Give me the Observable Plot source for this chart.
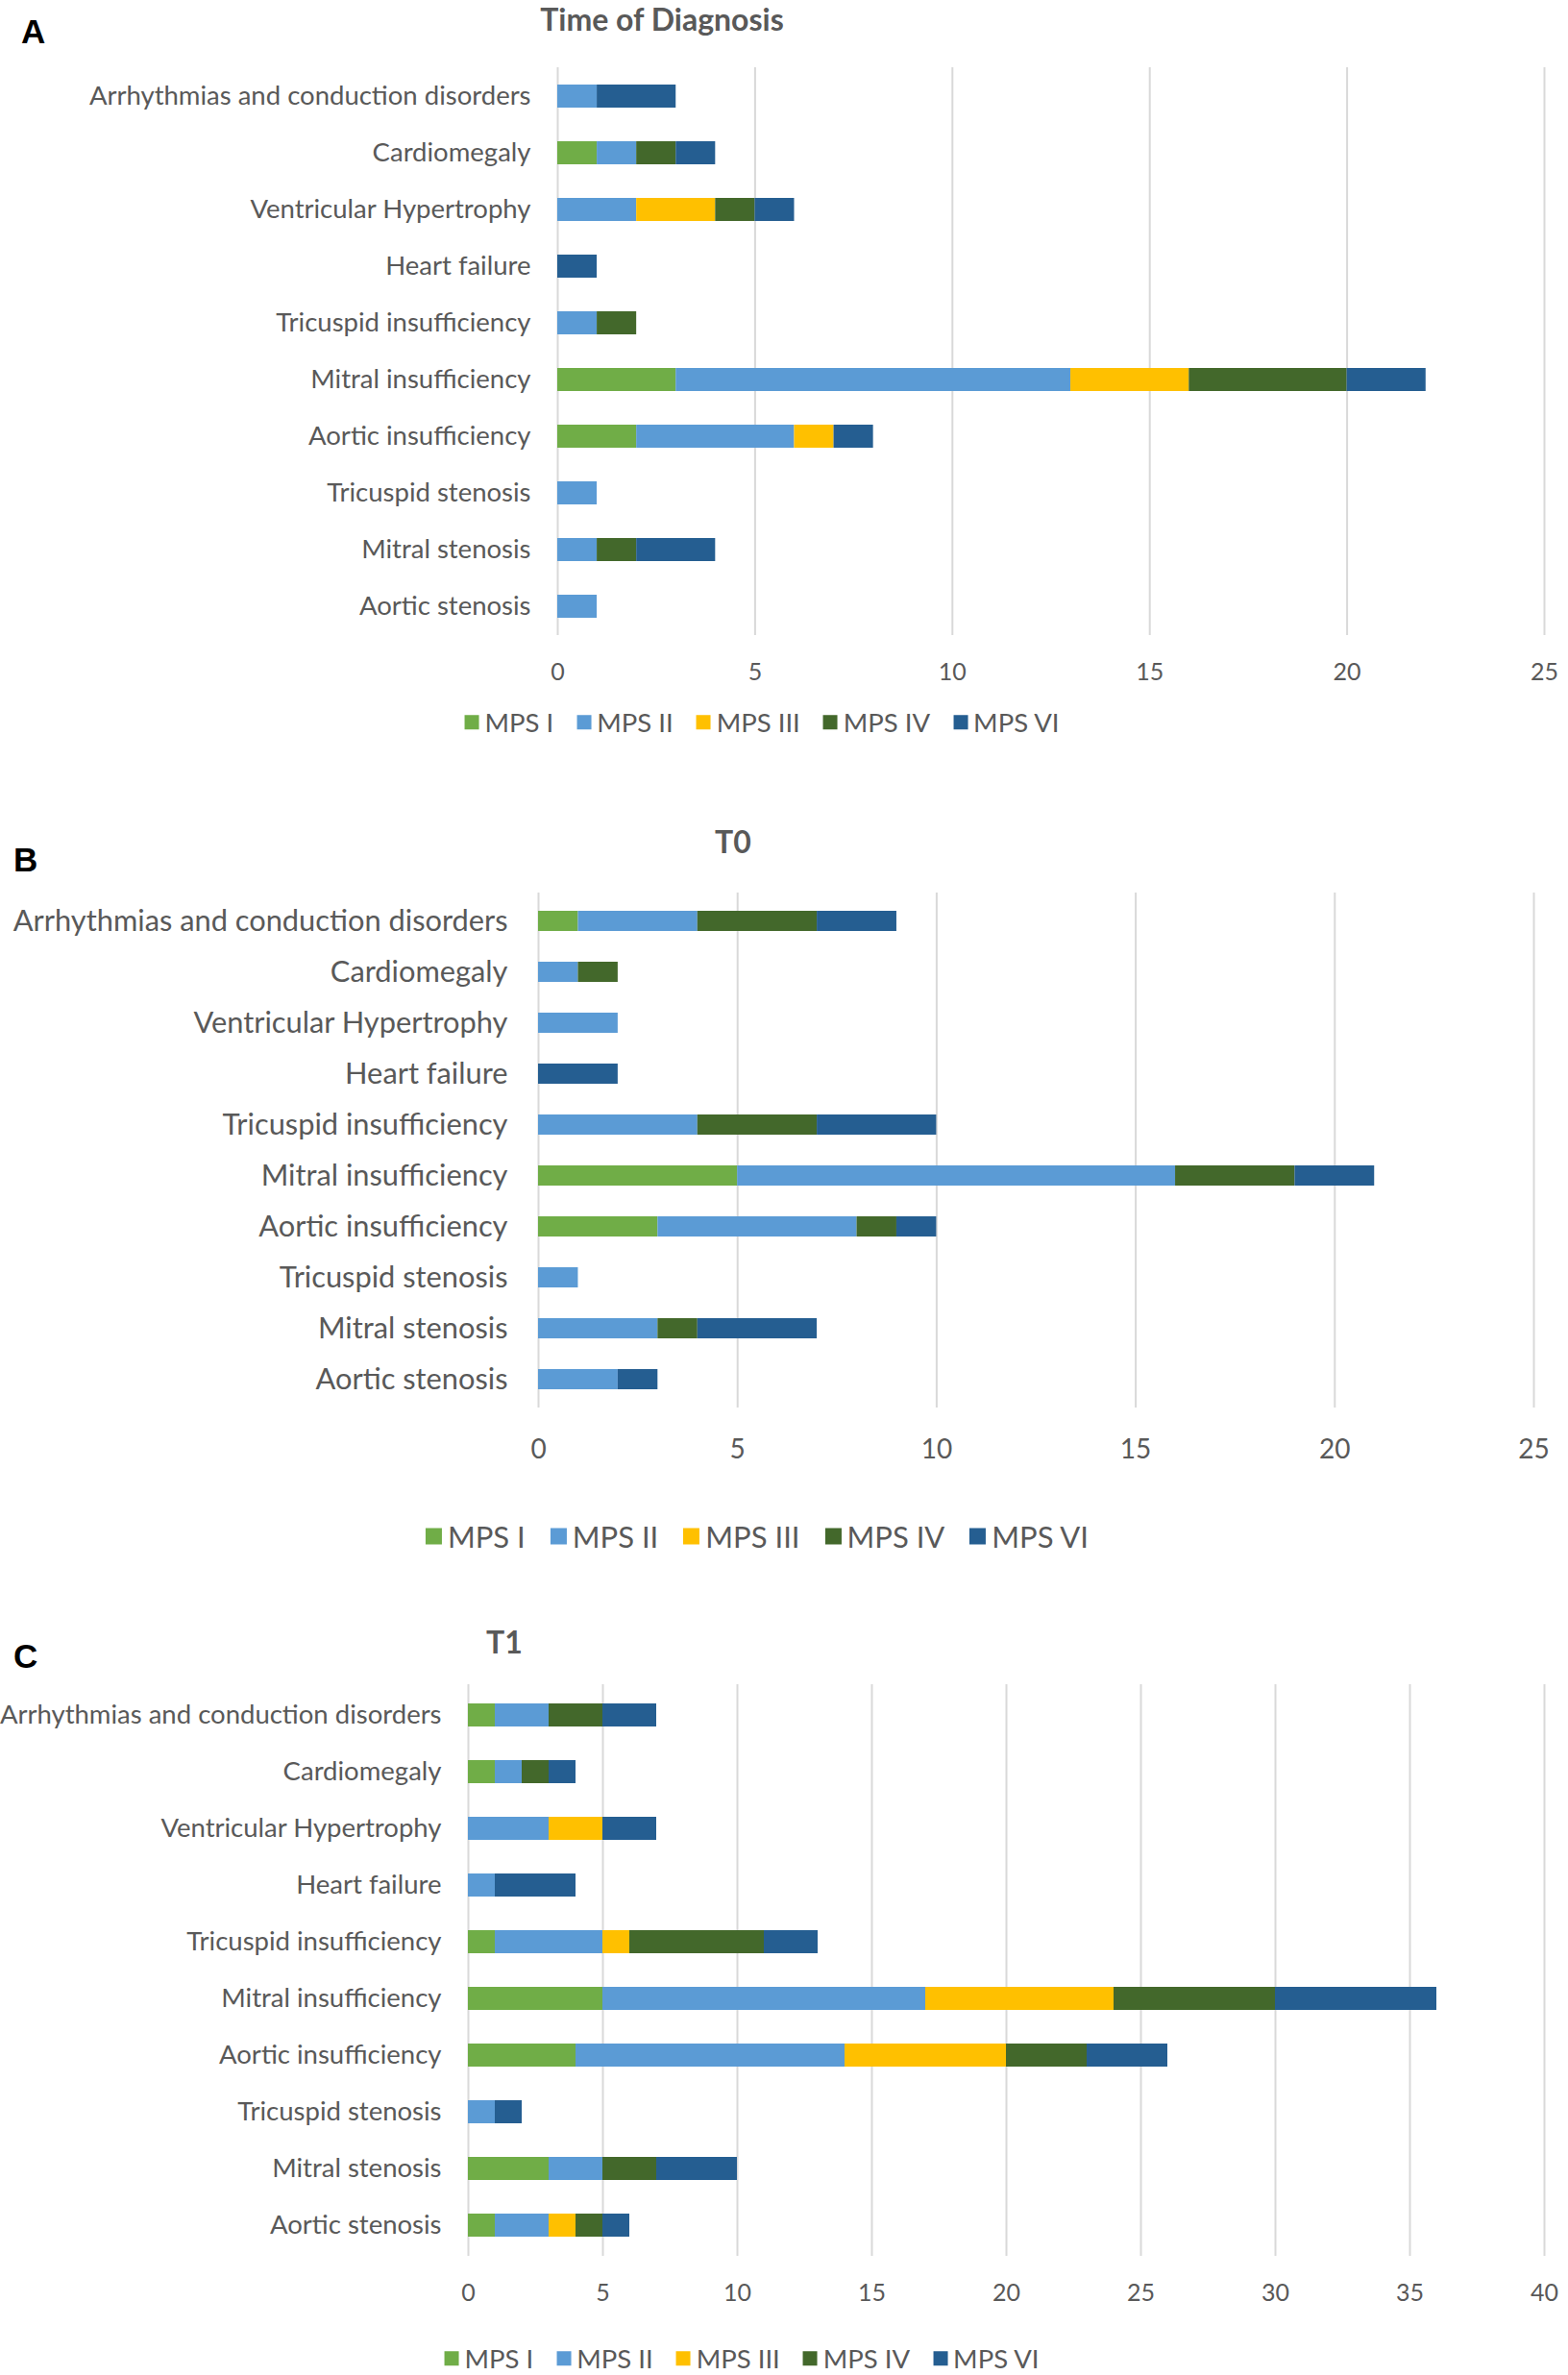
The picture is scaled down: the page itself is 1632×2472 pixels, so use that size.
<!DOCTYPE html>
<html>
<head>
<meta charset="utf-8">
<script src="https://cdn.jsdelivr.net/npm/d3@7"></script>
<script src="https://cdn.jsdelivr.net/npm/@observablehq/plot@0.6"></script>
<style>
  html, body { margin: 0; padding: 0; background: #fff; }
  #root { position: relative; width: 1632px; height: 2472px; background: #fff; font-family: Lato, "Open Sans", sans-serif; color: #595959; overflow: hidden; }
  .abs { position: absolute; }
  .letter { font-family: "Liberation Sans", Arial, sans-serif; font-weight: bold; color: #000; font-size: 35px; line-height: 1; }
  .title { font-weight: bold; color: #595959; transform: translate(-50%, -50%); white-space: nowrap; line-height: 1.15; }
  .legend { display: flex; align-items: center; transform: translate(-50%, -50%); white-space: nowrap; line-height: 1; color: #595959; }
  .legend .item { display: flex; align-items: center; }
  .legend .sw { display: inline-block; margin-right: 6px; }
</style>
</head>
<body>
<div id="root"></div>
<script>
// Categories, top to bottom
const categories = [
  "Arrhythmias and conduction disorders",
  "Cardiomegaly",
  "Ventricular Hypertrophy",
  "Heart failure",
  "Tricuspid insufficiency",
  "Mitral insufficiency",
  "Aortic insufficiency",
  "Tricuspid stenosis",
  "Mitral stenosis",
  "Aortic stenosis"
];
const seriesNames = ["MPS I", "MPS II", "MPS III", "MPS IV", "MPS VI"];
const seriesColors = ["#70AD47", "#5B9BD5", "#FFC000", "#43682B", "#255E91"];

// Panel A: Time of Diagnosis (one array per series, values in category order)
const diagnosisMPSI   = [0, 1, 0, 0, 0, 3, 2, 0, 0, 0];
const diagnosisMPSII  = [1, 1, 2, 0, 1, 10, 4, 1, 1, 1];
const diagnosisMPSIII = [0, 0, 2, 0, 0, 3, 1, 0, 0, 0];
const diagnosisMPSIV  = [0, 1, 1, 0, 1, 4, 0, 0, 1, 0];
const diagnosisMPSVI  = [2, 1, 1, 1, 0, 2, 1, 0, 2, 0];

// Panel B: T0
const t0MPSI   = [1, 0, 0, 0, 0, 5, 3, 0, 0, 0];
const t0MPSII  = [3, 1, 2, 0, 4, 11, 5, 1, 3, 2];
const t0MPSIII = [0, 0, 0, 0, 0, 0, 0, 0, 0, 0];
const t0MPSIV  = [3, 1, 0, 0, 3, 3, 1, 0, 1, 0];
const t0MPSVI  = [2, 0, 0, 2, 3, 2, 1, 0, 3, 1];

// Panel C: T1
const t1MPSI   = [1, 1, 0, 0, 1, 5, 4, 0, 3, 1];
const t1MPSII  = [2, 1, 3, 1, 4, 12, 10, 1, 2, 2];
const t1MPSIII = [0, 0, 2, 0, 1, 7, 6, 0, 0, 1];
const t1MPSIV  = [2, 1, 0, 0, 5, 6, 3, 0, 2, 1];
const t1MPSVI  = [2, 1, 2, 3, 2, 6, 3, 1, 3, 1];

const xTicksA = [0, 5, 10, 15, 20, 25];
const xTicksB = [0, 5, 10, 15, 20, 25];
const xTicksC = [0, 5, 10, 15, 20, 25, 30, 35, 40];

const root = document.getElementById("root");

function toRows(seriesArrays) {
  const rows = [];
  seriesArrays.forEach((vals, si) => {
    vals.forEach((v, ci) => {
      if (v > 0) rows.push({category: categories[ci], series: seriesNames[si], value: v});
    });
  });
  return rows;
}

function panel(cfg) {
  const rows = toRows(cfg.values);
  const chart = Plot.plot({
    width: 1632,
    height: cfg.height,
    marginTop: cfg.marginTop,
    marginBottom: cfg.marginBottom,
    marginLeft: cfg.marginLeft,
    marginRight: cfg.marginRight,
    style: {fontFamily: "Lato, 'Open Sans', sans-serif", fontSize: cfg.labelSize + "px", color: "#595959", background: "transparent", overflow: "visible"},
    x: {domain: [cfg.ticks[0], cfg.ticks[cfg.ticks.length - 1]], ticks: cfg.ticks, label: null},
    y: {domain: categories, paddingInner: 0.6, paddingOuter: 0.3, label: null},
    color: {domain: seriesNames, range: seriesColors},
    marks: [
      Plot.gridX(cfg.ticks, {stroke: "#D9D9D9", strokeOpacity: 1, strokeWidth: 2}),
      Plot.barX(rows, {x: "value", y: "category", fill: "series", inset: 0}),
      Plot.axisX(cfg.ticks, {tickSize: 0, tickPadding: cfg.xPad, label: null, fill: "#595959", fontSize: cfg.tickSize}),
      Plot.axisY({tickSize: 0, tickPadding: cfg.yPad, label: null, fill: "#595959", fontSize: cfg.labelSize})
    ]
  });
  chart.style.position = "absolute";
  chart.style.left = "0px";
  chart.style.top = cfg.top + "px";
  root.appendChild(chart);

  const letter = document.createElement("div");
  letter.className = "abs letter";
  letter.textContent = cfg.letter;
  letter.style.left = cfg.letterX + "px";
  letter.style.top = cfg.letterY + "px";
  root.appendChild(letter);

  const title = document.createElement("div");
  title.className = "abs title";
  title.textContent = cfg.title;
  title.style.left = cfg.titleX + "px";
  title.style.top = cfg.titleY + "px";
  title.style.fontSize = cfg.titleSize + "px";
  root.appendChild(title);

  const legend = document.createElement("div");
  legend.className = "abs legend";
  legend.style.left = cfg.legendX + "px";
  legend.style.top = cfg.legendY + "px";
  legend.style.fontSize = cfg.legendSize + "px";
  seriesNames.forEach((name, i) => {
    const item = document.createElement("div");
    item.className = "item";
    item.style.marginRight = (i < seriesNames.length - 1 ? cfg.legendGap : 0) + "px";
    const sw = document.createElement("span");
    sw.className = "sw";
    sw.style.background = seriesColors[i];
    sw.style.width = cfg.swSize + "px";
    sw.style.height = cfg.swSize + "px";
    const tx = document.createElement("span");
    tx.textContent = name;
    item.appendChild(sw);
    item.appendChild(tx);
    legend.appendChild(item);
  });
  root.appendChild(legend);
}

panel({
  values: [diagnosisMPSI, diagnosisMPSII, diagnosisMPSIII, diagnosisMPSIV, diagnosisMPSVI],
  ticks: xTicksA, top: 40, height: 696, marginTop: 30, marginBottom: 75,
  marginLeft: 580, marginRight: 25, labelSize: 27.5, tickSize: 25, xPad: 29, yPad: 28,
  letter: "A", letterX: 22, letterY: 15,
  title: "Time of Diagnosis", titleX: 689, titleY: 20, titleSize: 32,
  legendX: 793, legendY: 752, legendSize: 27.5, legendGap: 24, swSize: 15
});

panel({
  values: [t0MPSI, t0MPSII, t0MPSIII, t0MPSIV, t0MPSVI],
  ticks: xTicksB, top: 900, height: 640, marginTop: 29, marginBottom: 75,
  marginLeft: 560, marginRight: 36, labelSize: 30.8, tickSize: 28, xPad: 33, yPad: 32,
  letter: "B", letterX: 14, letterY: 877,
  title: "T0", titleX: 763, titleY: 876, titleSize: 32,
  legendX: 788, legendY: 1599, legendSize: 31, legendGap: 26, swSize: 17
});

panel({
  values: [t1MPSI, t1MPSII, t1MPSIII, t1MPSIV, t1MPSVI],
  ticks: xTicksC, top: 1725, height: 698, marginTop: 28, marginBottom: 75,
  marginLeft: 487, marginRight: 25, labelSize: 27.5, tickSize: 25, xPad: 29, yPad: 28,
  letter: "C", letterX: 14, letterY: 1706,
  title: "T1", titleX: 525, titleY: 1709, titleSize: 32,
  legendX: 772, legendY: 2455, legendSize: 27.5, legendGap: 24, swSize: 15
});
</script>
</body>
</html>
